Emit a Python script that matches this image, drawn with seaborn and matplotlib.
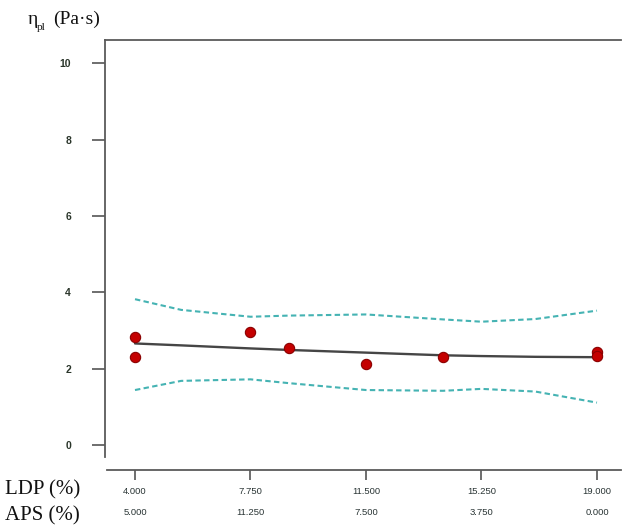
import matplotlib
matplotlib.use("Agg")
import matplotlib.pyplot as plt
import seaborn as sns
import pandas as pd

# ---- data ----
ldp_obs = [4.0, 4.0, 7.75, 9.0, 11.5, 14.0, 19.0, 19.0]
eta_obs = [2.84, 2.30, 2.95, 2.54, 2.12, 2.30, 2.43, 2.34]

curve_x = [4.0, 5.5, 7.75, 9.0, 11.5, 14.0, 15.25, 17.0, 19.0]
fit_y   = [2.66, 2.61, 2.53, 2.49, 2.42, 2.35, 2.33, 2.31, 2.30]
upper_y = [3.82, 3.54, 3.36, 3.39, 3.42, 3.29, 3.23, 3.30, 3.52]
lower_y = [1.44, 1.68, 1.72, 1.62, 1.44, 1.42, 1.47, 1.40, 1.11]

ldp_ticks = [4.0, 7.75, 11.5, 15.25, 19.0]
ldp_labels = ["4.000", "7.750", "11.500", "15.250", "19.000"]
aps_labels = ["5.000", "11.250", "7.500", "3.750", "0.000"]
y_ticks = [0, 2, 4, 6, 8, 10]

sns.set_theme(style="white")
plt.rcParams["font.family"] = ["Liberation Sans", "DejaVu Sans"]

fig = plt.figure(figsize=(6.23, 5.29), dpi=100)
ax = fig.add_axes([105/623, 1-470/529, (621-105)/623, (470-40)/529])

obs = pd.DataFrame({"x": ldp_obs, "y": eta_obs})
cur = pd.DataFrame({"x": curve_x, "fit": fit_y, "up": upper_y, "lo": lower_y})

teal = "#45b3b3"
sns.lineplot(data=cur, x="x", y="up", ax=ax, color=teal, lw=1.5,
             linestyle=(0, (2.6, 1.6)))
sns.lineplot(data=cur, x="x", y="lo", ax=ax, color=teal, lw=1.5,
             linestyle=(0, (2.6, 1.6)))
sns.lineplot(data=cur, x="x", y="fit", ax=ax, color="#454545", lw=1.7)
sns.scatterplot(data=obs, x="x", y="y", ax=ax, color="#c40000",
                edgecolor="#8a0000", linewidth=0.8, s=55, zorder=5)

ax.set_xlim(3.026, 19.78)
ax.set_ylim(-0.655, 10.61)
ax.set_xlabel("")
ax.set_ylabel("")

for s in ["left", "top", "bottom"]:
    ax.spines[s].set_visible(True)
    ax.spines[s].set_color("#5a5a5a")
    ax.spines[s].set_linewidth(1.3)
ax.spines["right"].set_visible(False)
ax.spines["left"].set_bounds(-0.31, 10.61)
ax.spines["bottom"].set_bounds(3.09, 19.78)

ax.set_yticks(y_ticks)
ax.set_yticklabels([str(v) for v in y_ticks])
ax.tick_params(axis="y", direction="out", length=9.4, width=1.2,
               color="#555555", pad=15, labelsize=7.5, labelcolor="#2a352a",
               left=True)
for lab in ax.get_yticklabels():
    lab.set_fontweight("bold")

ax.set_xticks(ldp_ticks)
ax.set_xticklabels([f"{a}\n{b}" for a, b in zip(ldp_labels, aps_labels)])
ax.tick_params(axis="x", direction="out", length=7, width=1.2,
               color="#555555", pad=5, labelsize=6.8, labelcolor="#2a3535",
               bottom=True)
for lab in ax.get_xticklabels():
    lab.set_linespacing(2.7)
    lab.set_verticalalignment("top")

ax.grid(False)

serif = ["Liberation Serif", "DejaVu Serif"]
fig.text(5/623, 1-490/529, "LDP (%)", family=serif, fontsize=15,
         va="center", ha="left", color="#111111")
fig.text(5/623, 1-516/529, "APS (%)", family=serif, fontsize=15,
         va="center", ha="left", color="#111111")
fig.text(28/623, 1-19/529, "η", family=serif, fontsize=14, va="center",
         ha="left", color="#111111")
fig.text(37/623, 1-28/529, "pl", family=serif, fontsize=8, va="center",
         ha="left", color="#111111")
fig.text(53/623, 1-19/529, "(Pa·s)", family=serif, fontsize=14,
         va="center", ha="left", color="#111111")

fig.savefig("out.png", dpi=100)
